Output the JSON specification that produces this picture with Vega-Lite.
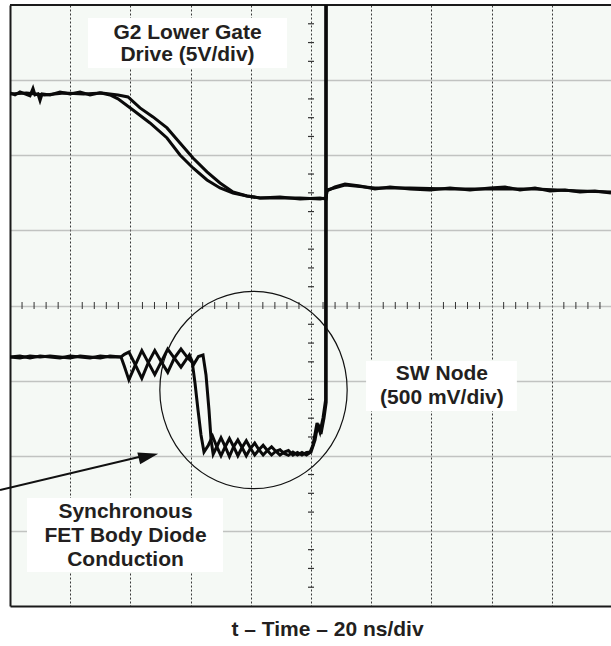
{
  "$schema": "https://vega.github.io/schema/vega-lite/v6.json",
  "width": 601,
  "height": 601,
  "autosize": {"type": "none"},
  "padding": {"left": 10, "top": 5, "right": 0, "bottom": 40},
  "background": "white",
  "config": {"view": {"fill": "#f5f9f5", "stroke": null}},
  "datasets": {
    "ticksH": [
      {"t": 4, "v": 0}, {"t": 8, "v": 0}, {"t": 12, "v": 0}, {"t": 16, "v": 0},
      {"t": 24, "v": 0}, {"t": 28, "v": 0}, {"t": 32, "v": 0}, {"t": 36, "v": 0},
      {"t": 44, "v": 0}, {"t": 48, "v": 0}, {"t": 52, "v": 0}, {"t": 56, "v": 0},
      {"t": 64, "v": 0}, {"t": 68, "v": 0}, {"t": 72, "v": 0}, {"t": 76, "v": 0},
      {"t": 84, "v": 0}, {"t": 88, "v": 0}, {"t": 92, "v": 0}, {"t": 96, "v": 0},
      {"t": 104, "v": 0}, {"t": 108, "v": 0}, {"t": 112, "v": 0}, {"t": 116, "v": 0},
      {"t": 124, "v": 0}, {"t": 128, "v": 0}, {"t": 132, "v": 0}, {"t": 136, "v": 0},
      {"t": 144, "v": 0}, {"t": 148, "v": 0}, {"t": 152, "v": 0}, {"t": 156, "v": 0},
      {"t": 164, "v": 0}, {"t": 168, "v": 0}, {"t": 172, "v": 0}, {"t": 176, "v": 0},
      {"t": 184, "v": 0}, {"t": 188, "v": 0}, {"t": 192, "v": 0}, {"t": 196, "v": 0}
    ],
    "ticksV": [
      {"t": 100, "v": -3.75}, {"t": 100, "v": -3.5}, {"t": 100, "v": -3.25},
      {"t": 100, "v": -2.75}, {"t": 100, "v": -2.5}, {"t": 100, "v": -2.25},
      {"t": 100, "v": -1.75}, {"t": 100, "v": -1.5}, {"t": 100, "v": -1.25},
      {"t": 100, "v": -0.75}, {"t": 100, "v": -0.5}, {"t": 100, "v": -0.25},
      {"t": 100, "v": 0.25}, {"t": 100, "v": 0.5}, {"t": 100, "v": 0.75},
      {"t": 100, "v": 1.25}, {"t": 100, "v": 1.5}, {"t": 100, "v": 1.75},
      {"t": 100, "v": 2.25}, {"t": 100, "v": 2.5}, {"t": 100, "v": 2.75},
      {"t": 100, "v": 3.25}, {"t": 100, "v": 3.5}, {"t": 100, "v": 3.75}
    ],
    "topBorder": [{"t": 0, "v": 4}, {"t": 199.67, "v": 4}],
    "boxes": [
      {"t": 25.9, "t2": 92.0, "v": 3.828, "v2": 3.162},
      {"t": 118.3, "t2": 168.4, "v": -0.739, "v2": -1.405},
      {"t": 5.65, "t2": 70.76, "v": -2.563, "v2": -3.549}
    ],
    "traces": [
      {"series": "gate_a", "t": 0, "v": 2.83}, {"series": "gate_a", "t": 1.66, "v": 2.803}, {"series": "gate_a", "t": 3.32, "v": 2.843}, {"series": "gate_a", "t": 4.98, "v": 2.816}, {"series": "gate_a", "t": 6.64, "v": 2.79}, {"series": "gate_a", "t": 7.64, "v": 2.89}, {"series": "gate_a", "t": 8.31, "v": 2.803}, {"series": "gate_a", "t": 9.3, "v": 2.816}, {"series": "gate_a", "t": 9.97, "v": 2.73}, {"series": "gate_a", "t": 10.63, "v": 2.816}, {"series": "gate_a", "t": 13.29, "v": 2.803}, {"series": "gate_a", "t": 16.61, "v": 2.843}, {"series": "gate_a", "t": 19.93, "v": 2.816}, {"series": "gate_a", "t": 23.26, "v": 2.843}, {"series": "gate_a", "t": 26.58, "v": 2.803}, {"series": "gate_a", "t": 29.9, "v": 2.83}, {"series": "gate_a", "t": 33.22, "v": 2.803}, {"series": "gate_a", "t": 35.88, "v": 2.75}, {"series": "gate_a", "t": 40.86, "v": 2.603}, {"series": "gate_a", "t": 46.51, "v": 2.43}, {"series": "gate_a", "t": 52.16, "v": 2.23}, {"series": "gate_a", "t": 56.48, "v": 2.004}, {"series": "gate_a", "t": 60.8, "v": 1.831}, {"series": "gate_a", "t": 65.45, "v": 1.671}, {"series": "gate_a", "t": 69.77, "v": 1.565}, {"series": "gate_a", "t": 74.09, "v": 1.498}, {"series": "gate_a", "t": 78.74, "v": 1.458}, {"series": "gate_a", "t": 83.06, "v": 1.431}, {"series": "gate_a", "t": 89.7, "v": 1.445}, {"series": "gate_a", "t": 96.35, "v": 1.418}, {"series": "gate_a", "t": 102.99, "v": 1.431}, {"series": "gate_a", "t": 104.98, "v": 1.418}, {"series": "gate_a", "t": 105.32, "v": 1.525}, {"series": "gate_a", "t": 107.97, "v": 1.578}, {"series": "gate_a", "t": 111.3, "v": 1.618}, {"series": "gate_a", "t": 116.28, "v": 1.591}, {"series": "gate_a", "t": 121.26, "v": 1.551}, {"series": "gate_a", "t": 126.25, "v": 1.578}, {"series": "gate_a", "t": 132.89, "v": 1.551}, {"series": "gate_a", "t": 139.54, "v": 1.538}, {"series": "gate_a", "t": 146.18, "v": 1.565}, {"series": "gate_a", "t": 152.82, "v": 1.538}, {"series": "gate_a", "t": 159.47, "v": 1.565}, {"series": "gate_a", "t": 164.45, "v": 1.578}, {"series": "gate_a", "t": 169.44, "v": 1.538}, {"series": "gate_a", "t": 174.42, "v": 1.565}, {"series": "gate_a", "t": 179.4, "v": 1.525}, {"series": "gate_a", "t": 184.39, "v": 1.538}, {"series": "gate_a", "t": 189.37, "v": 1.511}, {"series": "gate_a", "t": 194.35, "v": 1.525}, {"series": "gate_a", "t": 199.67, "v": 1.498},
      {"series": "gate_b", "t": 0, "v": 2.816}, {"series": "gate_b", "t": 5.5, "v": 2.83}, {"series": "gate_b", "t": 11.5, "v": 2.803}, {"series": "gate_b", "t": 18, "v": 2.83}, {"series": "gate_b", "t": 24.5, "v": 2.816}, {"series": "gate_b", "t": 30.5, "v": 2.83}, {"series": "gate_b", "t": 35.88, "v": 2.803}, {"series": "gate_b", "t": 39.2, "v": 2.776}, {"series": "gate_b", "t": 43.19, "v": 2.63}, {"series": "gate_b", "t": 47.51, "v": 2.51}, {"series": "gate_b", "t": 52.16, "v": 2.364}, {"series": "gate_b", "t": 56.48, "v": 2.164}, {"series": "gate_b", "t": 60.8, "v": 1.964}, {"series": "gate_b", "t": 65.45, "v": 1.778}, {"series": "gate_b", "t": 69.77, "v": 1.631}, {"series": "gate_b", "t": 74.09, "v": 1.511}, {"series": "gate_b", "t": 78.74, "v": 1.458}, {"series": "gate_b", "t": 83.06, "v": 1.431}, {"series": "gate_b", "t": 89.7, "v": 1.431}, {"series": "gate_b", "t": 96.35, "v": 1.431}, {"series": "gate_b", "t": 102.99, "v": 1.418}, {"series": "gate_b", "t": 104.98, "v": 1.431}, {"series": "gate_b", "t": 105.32, "v": 1.538}, {"series": "gate_b", "t": 111.3, "v": 1.604}, {"series": "gate_b", "t": 121.26, "v": 1.565}, {"series": "gate_b", "t": 132.89, "v": 1.565}, {"series": "gate_b", "t": 146.18, "v": 1.551}, {"series": "gate_b", "t": 159.47, "v": 1.551}, {"series": "gate_b", "t": 174.42, "v": 1.551}, {"series": "gate_b", "t": 189.37, "v": 1.525}, {"series": "gate_b", "t": 199.67, "v": 1.511},
      {"series": "sw_a", "t": 0, "v": -0.686}, {"series": "sw_a", "t": 3.3, "v": -0.672}, {"series": "sw_a", "t": 6.64, "v": -0.699}, {"series": "sw_a", "t": 10, "v": -0.672}, {"series": "sw_a", "t": 13.29, "v": -0.686}, {"series": "sw_a", "t": 16.6, "v": -0.699}, {"series": "sw_a", "t": 19.93, "v": -0.672}, {"series": "sw_a", "t": 23.3, "v": -0.686}, {"series": "sw_a", "t": 26.58, "v": -0.699}, {"series": "sw_a", "t": 30, "v": -0.672}, {"series": "sw_a", "t": 33.22, "v": -0.686}, {"series": "sw_a", "t": 36.88, "v": -0.686},
      {"series": "sw_a", "t": 37.9, "v": -0.8}, {"series": "sw_a", "t": 39.5, "v": -0.99}, {"series": "sw_a", "t": 41.65, "v": -0.79}, {"series": "sw_a", "t": 43.8, "v": -0.6}, {"series": "sw_a", "t": 45.95, "v": -0.76}, {"series": "sw_a", "t": 48.1, "v": -0.92}, {"series": "sw_a", "t": 50.25, "v": -0.75}, {"series": "sw_a", "t": 52.4, "v": -0.58}, {"series": "sw_a", "t": 54.6, "v": -0.7}, {"series": "sw_a", "t": 56.8, "v": -0.82}, {"series": "sw_a", "t": 58.5, "v": -0.72}, {"series": "sw_a", "t": 59.6, "v": -0.66}, {"series": "sw_a", "t": 60.5, "v": -0.74},
      {"series": "sw_a", "t": 61.46, "v": -1.032}, {"series": "sw_a", "t": 62.46, "v": -1.391}, {"series": "sw_a", "t": 63.46, "v": -1.724}, {"series": "sw_a", "t": 64.45, "v": -1.95}, {"series": "sw_a", "t": 65.9, "v": -1.86}, {"series": "sw_a", "t": 67.3, "v": -1.74}, {"series": "sw_a", "t": 68.7, "v": -1.88}, {"series": "sw_a", "t": 70.1, "v": -2.0}, {"series": "sw_a", "t": 71.5, "v": -1.88}, {"series": "sw_a", "t": 72.9, "v": -1.77}, {"series": "sw_a", "t": 74.3, "v": -1.88}, {"series": "sw_a", "t": 75.7, "v": -2.0}, {"series": "sw_a", "t": 77.1, "v": -1.89}, {"series": "sw_a", "t": 78.5, "v": -1.8}, {"series": "sw_a", "t": 79.9, "v": -1.9}, {"series": "sw_a", "t": 81.3, "v": -1.99}, {"series": "sw_a", "t": 82.7, "v": -1.92}, {"series": "sw_a", "t": 84.1, "v": -1.86}, {"series": "sw_a", "t": 85.5, "v": -1.93}, {"series": "sw_a", "t": 86.9, "v": -1.99}, {"series": "sw_a", "t": 88.3, "v": -1.94}, {"series": "sw_a", "t": 89.7, "v": -1.92}, {"series": "sw_a", "t": 91.1, "v": -1.97}, {"series": "sw_a", "t": 92.5, "v": -1.995}, {"series": "sw_a", "t": 94.0, "v": -1.95}, {"series": "sw_a", "t": 95.5, "v": -1.99}, {"series": "sw_a", "t": 97.0, "v": -1.955}, {"series": "sw_a", "t": 98.5, "v": -1.99}, {"series": "sw_a", "t": 99.6, "v": -1.96}, {"series": "sw_a", "t": 100.66, "v": -1.858}, {"series": "sw_a", "t": 102.0, "v": -1.565}, {"series": "sw_a", "t": 102.99, "v": -1.684}, {"series": "sw_a", "t": 103.99, "v": -1.498}, {"series": "sw_a", "t": 104.85, "v": -1.258}, {"series": "sw_a", "t": 104.9, "v": 4.5},
      {"series": "sw_b", "t": 0, "v": -0.686}, {"series": "sw_b", "t": 3.3, "v": -0.699}, {"series": "sw_b", "t": 6.64, "v": -0.672}, {"series": "sw_b", "t": 10, "v": -0.686}, {"series": "sw_b", "t": 13.29, "v": -0.672}, {"series": "sw_b", "t": 16.6, "v": -0.686}, {"series": "sw_b", "t": 19.93, "v": -0.699}, {"series": "sw_b", "t": 23.3, "v": -0.672}, {"series": "sw_b", "t": 26.58, "v": -0.686}, {"series": "sw_b", "t": 30, "v": -0.699}, {"series": "sw_b", "t": 33.22, "v": -0.672}, {"series": "sw_b", "t": 36.88, "v": -0.686},
      {"series": "sw_b", "t": 38.0, "v": -0.65}, {"series": "sw_b", "t": 39.5, "v": -0.62}, {"series": "sw_b", "t": 41.65, "v": -0.79}, {"series": "sw_b", "t": 43.8, "v": -0.97}, {"series": "sw_b", "t": 45.95, "v": -0.76}, {"series": "sw_b", "t": 48.1, "v": -0.6}, {"series": "sw_b", "t": 50.25, "v": -0.75}, {"series": "sw_b", "t": 52.4, "v": -0.89}, {"series": "sw_b", "t": 54.6, "v": -0.7}, {"series": "sw_b", "t": 56.8, "v": -0.58}, {"series": "sw_b", "t": 58.9, "v": -0.69}, {"series": "sw_b", "t": 61.1, "v": -0.78}, {"series": "sw_b", "t": 62.6, "v": -0.68}, {"series": "sw_b", "t": 64.12, "v": -0.66},
      {"series": "sw_b", "t": 65.12, "v": -0.925}, {"series": "sw_b", "t": 66.11, "v": -1.391}, {"series": "sw_b", "t": 66.8, "v": -1.79}, {"series": "sw_b", "t": 67.5, "v": -1.98}, {"series": "sw_b", "t": 68.7, "v": -1.88}, {"series": "sw_b", "t": 70.1, "v": -1.76}, {"series": "sw_b", "t": 71.5, "v": -1.88}, {"series": "sw_b", "t": 72.9, "v": -2.01}, {"series": "sw_b", "t": 74.3, "v": -1.88}, {"series": "sw_b", "t": 75.7, "v": -1.79}, {"series": "sw_b", "t": 77.1, "v": -1.89}, {"series": "sw_b", "t": 78.5, "v": -2.0}, {"series": "sw_b", "t": 79.9, "v": -1.9}, {"series": "sw_b", "t": 81.3, "v": -1.83}, {"series": "sw_b", "t": 82.7, "v": -1.92}, {"series": "sw_b", "t": 84.1, "v": -1.99}, {"series": "sw_b", "t": 85.5, "v": -1.93}, {"series": "sw_b", "t": 86.9, "v": -1.88}, {"series": "sw_b", "t": 88.3, "v": -1.94}, {"series": "sw_b", "t": 89.7, "v": -1.99}, {"series": "sw_b", "t": 91.1, "v": -1.95}, {"series": "sw_b", "t": 92.5, "v": -1.93}, {"series": "sw_b", "t": 94.0, "v": -1.99}, {"series": "sw_b", "t": 95.5, "v": -1.955}, {"series": "sw_b", "t": 97.0, "v": -1.99}, {"series": "sw_b", "t": 98.5, "v": -1.955}, {"series": "sw_b", "t": 100.0, "v": -1.951}, {"series": "sw_b", "t": 101.33, "v": -1.791}, {"series": "sw_b", "t": 102.33, "v": -1.578}, {"series": "sw_b", "t": 103.32, "v": -1.711}, {"series": "sw_b", "t": 104.32, "v": -1.498}, {"series": "sw_b", "t": 105.05, "v": -1.285}, {"series": "sw_b", "t": 105.1, "v": 4.5}
    ],
    "circle": [{"t": 80.9, "v": -1.125}],
    "arrowLine": [{"t": -3.32, "v": -2.457}, {"t": 42.86, "v": -2.017}],
    "arrowHead": [{"t": 46.0, "v": -2.004}],
    "labels1": [
      {"t": 58.97, "v": 3.626, "lines": ["G2 Lower Gate", "Drive (5V/div)"]}
    ],
    "labels2": [
      {"t": 143.5, "v": -0.909, "lines": ["SW Node", "(500 mV/div)"]},
      {"t": 38.37, "v": -2.743, "lines": ["Synchronous", "FET Body Diode", "Conduction"]}
    ]
  },
  "encoding": {
    "x": {"field": "t", "type": "quantitative",
      "scale": {"domain": [0, 199.67], "nice": false, "zero": false},
      "axis": {"values": [20, 40, 60, 80, 100, 120, 140, 160, 180], "labels": false, "ticks": false,
        "domain": true, "domainColor": "#1a1a1a", "domainWidth": 2,
        "grid": true, "gridColor": "#3a3a3a", "gridDash": [2, 2], "gridWidth": 1, "gridOpacity": 1,
        "title": "t – Time – 20 ns/div", "titleFont": "Liberation Sans", "titleFontSize": 21,
        "titleFontWeight": "bold", "titleColor": "#231f20", "titlePadding": 12, "titleX": 317}},
    "y": {"field": "v", "type": "quantitative",
      "scale": {"domain": [-4, 4], "nice": false, "zero": false},
      "axis": {"values": [-3, -2, -1, 0, 1, 2, 3], "labels": false, "ticks": false,
        "domain": true, "domainColor": "#1a1a1a", "domainWidth": 2,
        "grid": true, "gridColor": "#8c8c8c", "gridDash": [1, 1], "gridWidth": 1.6, "gridOpacity": 1,
        "title": null}}
  },
  "layer": [
    {
      "data": {"name": "ticksH"},
      "mark": {"type": "tick", "orient": "vertical", "size": 7, "thickness": 1, "color": "#333333", "opacity": 1}
    },
    {
      "data": {"name": "ticksV"},
      "mark": {"type": "tick", "orient": "horizontal", "size": 6, "thickness": 1.2, "color": "#333333", "opacity": 1}
    },
    {
      "data": {"name": "boxes"},
      "mark": {"type": "rect", "fill": "white"},
      "encoding": {
        "x2": {"field": "t2"},
        "y2": {"field": "v2"}
      }
    },
    {
      "data": {"name": "topBorder"},
      "mark": {"type": "line", "color": "#1a1a1a", "strokeWidth": 2}
    },
    {
      "data": {"name": "traces"},
      "mark": {"type": "line", "color": "#0a0a0a", "strokeWidth": 3, "clip": true},
      "encoding": {
        "detail": {"field": "series"}
      }
    },
    {
      "data": {"name": "circle"},
      "mark": {"type": "point", "shape": "M -0.949 0 A 0.949 1 0 1 1 0.949 0 A 0.949 1 0 1 1 -0.949 0 Z", "size": 38967, "filled": false, "color": "#111111", "strokeWidth": 1.2, "opacity": 1}
    },
    {
      "data": {"name": "arrowLine"},
      "mark": {"type": "line", "color": "#111111", "strokeWidth": 2}
    },
    {
      "data": {"name": "arrowHead"},
      "mark": {"type": "point", "shape": "M 1 0 L -1 -0.6 L -1 0.6 Z", "size": 400, "angle": 346.7, "filled": true, "color": "#111111", "opacity": 1}
    },
    {
      "data": {"name": "labels1"},
      "mark": {"type": "text", "font": "Liberation Sans", "fontSize": 21, "fontWeight": "bold", "color": "#231f20", "align": "center", "baseline": "middle", "lineHeight": 22},
      "encoding": {"text": {"field": "lines"}}
    },
    {
      "data": {"name": "labels2"},
      "mark": {"type": "text", "font": "Liberation Sans", "fontSize": 21, "fontWeight": "bold", "color": "#231f20", "align": "center", "baseline": "middle", "lineHeight": 24},
      "encoding": {"text": {"field": "lines"}}
    }
  ]
}
